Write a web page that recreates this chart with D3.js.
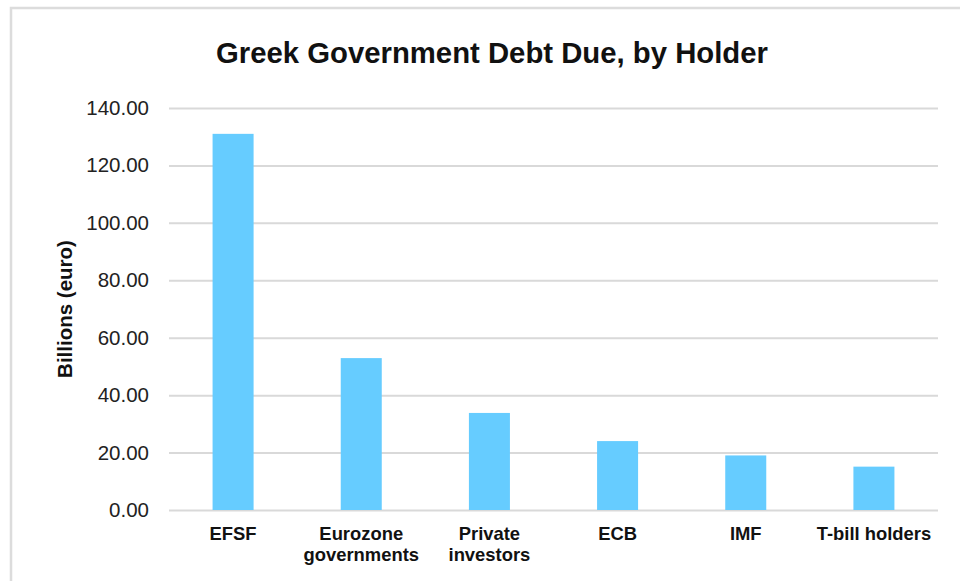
<!DOCTYPE html>
<html>
<head>
<meta charset="utf-8">
<script src="https://cdn.jsdelivr.net/npm/d3@7"></script>
<style>
  body { margin: 0; background: #fff; }
  svg { display: block; font-family: "Liberation Sans", Arial, sans-serif; }
</style>
</head>
<body>
<svg width="960" height="581"></svg>
<script>
// data
var holders = ["EFSF", "Eurozone governments", "Private investors", "ECB", "IMF", "T-bill holders"];
var debtDue = [131.0, 52.9, 33.8, 24.0, 19.0, 15.1];
var labelLines = [["EFSF"], ["Eurozone", "governments"], ["Private", "investors"], ["ECB"], ["IMF"], ["T-bill holders"]];
var yTicks = [0, 20, 40, 60, 80, 100, 120, 140];

var svg = d3.select("svg"),
    plotLeft = 169, plotRight = 938,
    plotTop = 108, plotBottom = 510;

// light frame round the chart
svg.append("rect")
    .attr("x", 11).attr("y", 8)
    .attr("width", 1000).attr("height", 1000)
    .attr("fill", "none")
    .attr("stroke", "#dcdcdc")
    .attr("stroke-width", 2.5);

svg.append("text")
    .attr("x", 492)
    .attr("y", 63)
    .attr("text-anchor", "middle")
    .style("font-size", "29.3px")
    .style("font-weight", "bold")
    .attr("fill", "#111")
    .text("Greek Government Debt Due, by Holder");

var x = d3.scaleBand()
    .domain(holders)
    .range([plotLeft, plotRight])
    .paddingInner(0.68)
    .paddingOuter(0.34);

var y = d3.scaleLinear()
    .domain([0, 140])
    .range([plotBottom, plotTop]);

// gridlines + y labels
var yAxis = svg.append("g")
    .attr("transform", "translate(" + plotLeft + ",0)")
    .call(d3.axisLeft(y)
        .tickValues(yTicks)
        .tickFormat(d3.format(".2f"))
        .tickSize(-(plotRight - plotLeft))
        .tickPadding(20));
yAxis.select(".domain").remove();
yAxis.selectAll("line")
    .attr("stroke", "#d9d9d9")
    .attr("stroke-width", 2);
yAxis.selectAll("text")
    .attr("fill", "#222")
    .style("font-size", "20.5px");

svg.append("text")
    .attr("transform", "translate(72," + ((plotTop + plotBottom) / 2) + ") rotate(-90)")
    .attr("text-anchor", "middle")
    .style("font-size", "20.5px")
    .style("font-weight", "bold")
    .attr("fill", "#111")
    .text("Billions (euro)");

// bars
svg.append("g")
  .selectAll("rect")
  .data(debtDue)
  .enter().append("rect")
    .attr("x", function(d, i) { return x(holders[i]); })
    .attr("y", function(d) { return y(d); })
    .attr("width", x.bandwidth())
    .attr("height", function(d) { return y(0) - y(d); })
    .attr("fill", "#66ccff");

// x labels
var xAxis = svg.append("g")
    .attr("transform", "translate(0," + plotBottom + ")")
    .call(d3.axisBottom(x).tickSize(0).tickFormat(""));
xAxis.select(".domain").remove();
xAxis.selectAll(".tick").each(function(d, i) {
  var t = d3.select(this).append("text")
      .attr("text-anchor", "middle")
      .attr("fill", "#111")
      .style("font-size", "18.4px")
      .style("font-weight", "bold");
  labelLines[i].forEach(function(line, j) {
    t.append("tspan")
        .attr("x", 0)
        .attr("y", 30 + j * 21)
        .text(line);
  });
});
</script>
</body>
</html>
